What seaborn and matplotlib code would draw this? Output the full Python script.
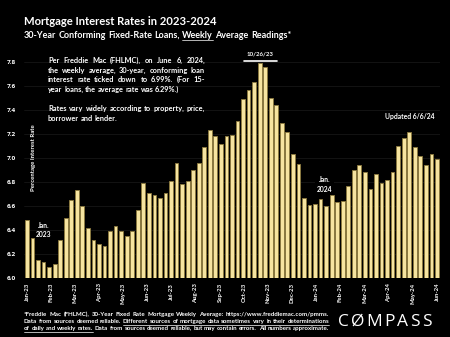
import math
import matplotlib
matplotlib.use("Agg")
import matplotlib.pyplot as plt
from matplotlib.transforms import IdentityTransform
from matplotlib.lines import Line2D
from matplotlib.font_manager import FontProperties
import numpy as np
import pandas as pd
import seaborn as sns

# Freddie Mac PMMS weekly 30-year fixed averages
weeks = [
    "2023-01-05", "2023-01-12", "2023-01-19", "2023-01-26", "2023-02-02", "2023-02-09",
    "2023-02-16", "2023-02-23", "2023-03-02", "2023-03-09", "2023-03-16", "2023-03-23",
    "2023-03-30", "2023-04-06", "2023-04-13", "2023-04-20", "2023-04-27", "2023-05-04",
    "2023-05-11", "2023-05-18", "2023-05-25", "2023-06-01", "2023-06-08", "2023-06-15",
    "2023-06-22", "2023-06-29", "2023-07-06", "2023-07-13", "2023-07-20", "2023-07-27",
    "2023-08-03", "2023-08-10", "2023-08-17", "2023-08-24", "2023-08-31", "2023-09-07",
    "2023-09-14", "2023-09-21", "2023-09-28", "2023-10-05", "2023-10-12", "2023-10-19",
    "2023-10-26", "2023-11-02", "2023-11-09", "2023-11-16", "2023-11-22", "2023-11-30",
    "2023-12-07", "2023-12-14", "2023-12-21", "2023-12-28", "2024-01-04", "2024-01-11",
    "2024-01-18", "2024-01-25", "2024-02-01", "2024-02-08", "2024-02-15", "2024-02-22",
    "2024-02-29", "2024-03-07", "2024-03-14", "2024-03-21", "2024-03-28", "2024-04-04",
    "2024-04-11", "2024-04-18", "2024-04-25", "2024-05-02", "2024-05-09", "2024-05-16",
    "2024-05-23", "2024-05-30", "2024-06-06",
]
rates = [
    6.48, 6.33, 6.15, 6.13, 6.09, 6.12, 6.32, 6.50, 6.65, 6.73, 6.60, 6.42,
    6.32, 6.28, 6.27, 6.39, 6.43, 6.39, 6.35, 6.39, 6.57, 6.79, 6.71, 6.69,
    6.67, 6.71, 6.81, 6.96, 6.78, 6.81, 6.90, 6.96, 7.09, 7.23, 7.18, 7.12,
    7.18, 7.19, 7.31, 7.49, 7.57, 7.63, 7.79, 7.76, 7.50, 7.44, 7.29, 7.22,
    7.03, 6.95, 6.67, 6.61, 6.62, 6.66, 6.60, 6.69, 6.63, 6.64, 6.77, 6.90,
    6.94, 6.88, 6.74, 6.87, 6.79, 6.82, 6.88, 7.10, 7.17, 7.22, 7.09, 7.02,
    6.94, 7.03, 6.99,
]
month_labels = [
    "Jan-23", "Feb-23", "Mar-23", "Apr-23", "May-23", "Jun-23", "Jul-23", "Aug-23",
    "Sep-23", "Oct-23", "Nov-23", "Dec-23", "Jan-24", "Feb-24", "Mar-24", "Apr-24",
    "May-24", "Jun-24",
]
y_ticks = [6.0, 6.2, 6.4, 6.6, 6.8, 7.0, 7.2, 7.4, 7.6, 7.8]

W, H = 450, 337
BAR_FACE = "#F6E4A0"
BAR_EDGE = "#8C7A3E"

sns.set_theme(style="dark")
plt.rcParams["font.family"] = ["Lato", "DejaVu Sans"]

df = pd.DataFrame({"week": weeks, "rate": rates})

fig = plt.figure(figsize=(W / 100, H / 100), dpi=100, facecolor="black")
ax = fig.add_axes([24.2 / W, 59 / H, 415.5 / W, 223.2 / H])
ax.set_facecolor("black")

sns.barplot(data=df, x="week", y="rate", color=BAR_FACE, saturation=1,
            width=0.68, edgecolor=BAR_EDGE, linewidth=0.6, ax=ax)

ax.set_ylim(6.0, 7.86)
ax.set_xlim(-0.5, len(df) - 0.5)
ax.set_yticks(y_ticks)
ax.set_yticklabels([f"{v:.1f}" for v in y_ticks], fontsize=4.6,
                   color="white", fontweight="bold", family="Open Sans")
tick_pos = np.linspace(0, len(df) - 1, len(month_labels))
ax.set_xticks(tick_pos)
ax.set_xticklabels(month_labels, rotation=90, fontsize=4.3, color="white",
                   fontweight="bold")
ax.tick_params(axis="both", length=0)
ax.tick_params(axis="y", pad=6)
ax.tick_params(axis="x", pad=3.5)
ax.set_xlabel("")
ax.set_ylabel("")
ax.grid(axis="y", color="#1b1b1b", linewidth=0.5)
ax.set_axisbelow(True)
for s in ax.spines.values():
    s.set_visible(False)

# peak marker
ax.plot([39.2, 45.1], [7.812, 7.812], color="white", lw=1.2, clip_on=False)
ax.text(42.1, 7.845, "10/26/23", ha="center", va="bottom", fontsize=4.4,
        color="white", fontweight="bold", clip_on=False)
ax.text(69.1, 7.345, "Updated 6/6/24", ha="center", va="center", fontsize=4.9,
        color="white", fontweight="bold")
ax.text(53.7, 6.78, "Jan.\n2024", ha="center", va="center", fontsize=4.9,
        color="white", fontweight="bold", linespacing=1.45,
        bbox=dict(facecolor="black", edgecolor="none", pad=1.5))
ax.text(2.98, 6.40, "Jan.\n2023", ha="center", va="center", fontsize=4.9,
        color="white", fontweight="bold", linespacing=1.45)

fig.text(33 / W, 1 - 158 / H, "Percentage Interest Rate", rotation=90,
         ha="center", va="center", fontsize=4.3, color="white", fontweight="bold")

renderer = fig.canvas.get_renderer()
ident = IdentityTransform()


def width_px(s, **kw):
    t = fig.text(0, 0, s, transform=ident, **kw)
    w = t.get_window_extent(renderer).width
    t.remove()
    return w


def baseline_shift(s, size, weight):
    """Offset that puts the rasterised word's baseline on the whole-pixel row."""
    try:
        from matplotlib.backends.backend_agg import get_hinting_flag
        prop = FontProperties(family=plt.rcParams["font.family"], size=size, weight=weight)
        font = renderer._prepare_font(prop)
        font.set_text(s, 0, flags=get_hinting_flag())
        _, h26 = font.get_width_height()
        d26 = font.get_descent()
        d = d26 / 64.0
        asc = (h26 - d26) / 64.0
        k = (h26 // 64) - math.floor(asc)
        return k - d
    except Exception:
        return 0.0


def place_line(words, x0, x1, baseline, justify=True, underline=(),
               fontsize=5, fontweight="bold", color="white"):
    kw = dict(fontsize=fontsize, fontweight=fontweight, color=color)
    widths = [width_px(w, **kw) for w in words]
    space = width_px("a a", **kw) - width_px("aa", **kw)
    if justify and len(words) > 1:
        gap = max((x1 - x0 - sum(widths)) / (len(words) - 1), space * 0.8)
    else:
        gap = space
    base = round(baseline)
    x = x0
    spans = []
    for w, wd in zip(words, widths):
        yf = base + baseline_shift(w, fontsize, fontweight)
        fig.text(x, H - yf, w, transform=ident, ha="left", va="baseline", **kw)
        spans.append((x, x + wd))
        x += wd + gap
    if underline:
        a, b = underline
        fig.add_artist(Line2D([spans[a][0], spans[b][1]],
                              [H - base - 1.5, H - base - 1.5],
                              transform=ident, color=color, lw=0.5))


# headline
fig.text(24, H - 25.3, "Mortgage Interest Rates in 2023-2024", transform=ident,
         ha="left", va="baseline", fontsize=8.1, fontweight="bold", color="white")
sub_words = "30-Year Conforming Fixed-Rate Loans, Weekly Average Readings*".split()
place_line(sub_words, 24, 291, 38, justify=False, underline=(4, 4), fontsize=6.45)

# note block
note = [
    ("Per Freddie Mac (FHLMC), on June 6, 2024,", True),
    ("the weekly average, 30-year, conforming loan", True),
    ("interest rate ticked down to 6.99%. (For 15-", True),
    ("year loans, the average rate was 6.29%.)", False),
    ("", False),
    ("Rates vary widely according to property, price,", True),
    ("borrower and lender.", False),
]
for i, (line, just) in enumerate(note):
    if line:
        place_line(line.split(), 48, 205, 63.3 + 9.6 * i, justify=just, fontsize=5.35)

# footnote
foot = [
    ("*Freddie Mac (FHLMC), 30-Year Fixed Rate Mortgage Weekly Average:  https://www.freddiemac.com/pmms.", None),
    ("Data from sources deemed reliable. Different sources of mortgage data sometimes vary in their determinations", (5, 14)),
    ("of daily and weekly rates. Data from sources deemed reliable, but may contain errors. All numbers approximate.", (0, 4)),
]
for i, (line, ul) in enumerate(foot):
    place_line(line.split(), 24, 329, 315.8 + 7.2 * i, justify=True,
               underline=ul or (), fontsize=4.4)

# brand mark
letters = list("CØMPASS")
lw = [width_px(c, fontsize=12.5, family="Open Sans", color="white") for c in letters]
track = (432 - 338 - sum(lw)) / (len(letters) - 1)
x = 338
for c, wd in zip(letters, lw):
    fig.text(x, H - 326, c, transform=ident, ha="left", va="baseline",
             fontsize=12.5, family="Open Sans", color="white")
    x += wd + track

fig.savefig("out.png", dpi=100, facecolor="black")
